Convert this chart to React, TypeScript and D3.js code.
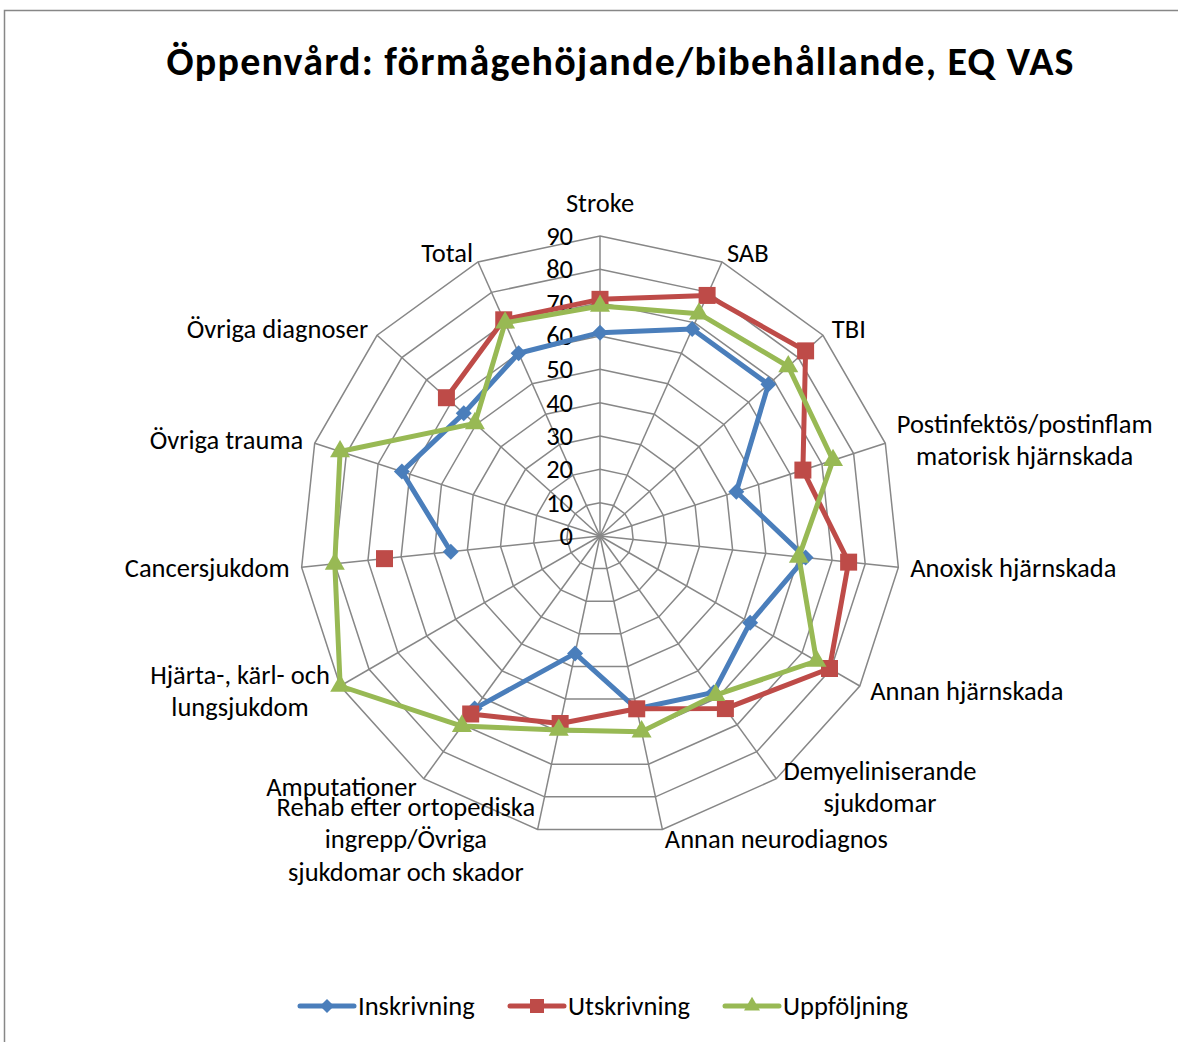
import React, { useRef, useEffect } from 'react';
import * as d3 from 'd3';

// category labels (one entry per spoke, split into lines as in the picture)
const categories: string[][] = [
  ['Stroke'],
  ['SAB'],
  ['TBI'],
  ['Postinfektös/postinflam', 'matorisk hjärnskada'],
  ['Anoxisk hjärnskada'],
  ['Annan hjärnskada'],
  ['Demyeliniserande', 'sjukdomar'],
  ['Annan neurodiagnos'],
  ['Rehab efter ortopediska', 'ingrepp/Övriga', 'sjukdomar och skador'],
  ['Amputationer'],
  ['Hjärta-, kärl- och', 'lungsjukdom'],
  ['Cancersjukdom'],
  ['Övriga trauma'],
  ['Övriga diagnoser'],
  ['Total'],
];

const inskrivning = [61, 68, 68, 43, 62, 52, 58, 53, 36, 64, null, 45, 62.5, 55, 60];
const utskrivning = [71, 79, 83, 64, 75, 79.5, 64, 53, 57.5, 66, null, 65, null, 62, 71];
const uppfoljning = [69, 73, 76, 73.5, 60, 75, 59, 60, 59.5, 70.5, 90, 80, 82, 50.5, 70];

const tickValues = [0, 10, 20, 30, 40, 50, 60, 70, 80, 90];

const seriesNames = ['Inskrivning', 'Utskrivning', 'Uppföljning'];
const seriesColors = ['#4A7EBB', '#BE4B48', '#98B954'];
const seriesMarkers = ['diamond', 'square', 'triangle'];

const FONT = 'Carlito, Lato, sans-serif';
const LABEL_SIZE = '26.5px';

export default function App() {
  const ref = useRef<SVGSVGElement>(null);

  useEffect(() => {
    const W = 1178, H = 1042;
    const cx = 600, cy = 536, R = 300;
    const svg = d3.select(ref.current);
    svg.selectAll('*').remove();

    svg.append('rect').attr('width', W).attr('height', H).attr('fill', '#fff');
    // chart border (only left and top visible)
    svg.append('path')
      .attr('d', `M4.5,${H} L4.5,10.5 L${W},10.5`)
      .attr('fill', 'none').attr('stroke', '#878787').attr('stroke-width', 1.5);

    svg.append('text')
      .attr('x', 620).attr('y', 61)
      .attr('text-anchor', 'middle').attr('dominant-baseline', 'central')
      .attr('textLength', 907).attr('lengthAdjust', 'spacing')
      .style('font-family', FONT).style('font-weight', 700).style('font-size', '40px')
      .text('Öppenvård: förmågehöjande/bibehållande, EQ VAS');

    const n = categories.length;
    const angle = d3.scaleLinear().domain([0, n]).range([0, 2 * Math.PI]);
    const r = d3.scaleLinear().domain([0, 90]).range([0, R]);

    const g = svg.append('g').attr('transform', `translate(${cx},${cy})`);
    const pt = (i: number, v: number) => [r(v) * Math.sin(angle(i)), -r(v) * Math.cos(angle(i))];

    // rings
    tickValues.filter(t => t > 0).forEach(t => {
      const pts = d3.range(n).map(i => pt(i, t));
      g.append('path')
        .attr('d', 'M' + pts.map(p => p.join(',')).join('L') + 'Z')
        .attr('fill', 'none').attr('stroke', '#878787').attr('stroke-width', 1.5);
    });
    // spokes
    d3.range(n).forEach(i => {
      const p = pt(i, 90);
      g.append('line').attr('x1', 0).attr('y1', 0).attr('x2', p[0]).attr('y2', p[1])
        .attr('stroke', '#878787').attr('stroke-width', 1.5);
    });

    // tick labels
    g.selectAll('text.tick').data(tickValues).enter().append('text')
      .attr('class', 'tick')
      .attr('x', -27).attr('y', d => -r(d))
      .attr('text-anchor', 'end').attr('dominant-baseline', 'central')
      .style('font-family', FONT).style('font-size', LABEL_SIZE).attr('fill', '#000')
      .text(d => d);

    // category labels
    const lineH = 32.5;
    categories.forEach((lines, i) => {
      const a = angle(i);
      const s = Math.sin(a), c = Math.cos(a);
      const v = pt(i, 90);
      const h = lines.length * lineH;
      const tg = g.append('g');
      const texts = lines.map(l => tg.append('text')
        .attr('text-anchor', 'middle').attr('dominant-baseline', 'central')
        .style('font-family', FONT).style('font-size', LABEL_SIZE).text(l));
      const w = d3.max(texts, t => (t.node() as SVGTextElement).getComputedTextLength()) || 0;
      let mx: number;
      let my: number;
      if (Math.abs(s) < 0.05) {
        mx = v[0];
        my = v[1] - c * (h / 2 + 17);
      } else {
        my = v[1] - c * 10;
        mx = s > 0 ? v[0] + 12 * s + w / 2 : v[0] + 12 * s - w / 2;
      }
      texts.forEach((t, k) => t.attr('x', mx).attr('y', my - h / 2 + lineH * (k + 0.5)));
    });

    const markerPath = (type: string, size: number) => {
      if (type === 'diamond') return d3.symbol(d3.symbolSquare, size * size / 2)();
      if (type === 'square') return d3.symbol(d3.symbolSquare, size * size)();
      return d3.symbol(d3.symbolTriangle, size * size * Math.sqrt(3) / 4)();
    };
    const markerRot = (type: string) => (type === 'diamond' ? ' rotate(45)' : '');

    const allSeries = [inskrivning, utskrivning, uppfoljning];
    allSeries.forEach((vals, si) => {
      const data = vals.map((v, i) => ({ i, v }));
      const closed = [...data, { i: n, v: vals[0] }];
      const line = d3.line<{ i: number; v: number | null }>()
        .defined(d => d.v != null)
        .x(d => pt(d.i, d.v as number)[0])
        .y(d => pt(d.i, d.v as number)[1]);
      g.append('path').datum(closed)
        .attr('d', line)
        .attr('fill', 'none').attr('stroke', seriesColors[si])
        .attr('stroke-width', 5).attr('stroke-linejoin', 'round').attr('stroke-linecap', 'round');
      const msize = seriesMarkers[si] === 'diamond' ? 16 : seriesMarkers[si] === 'square' ? 17 : 20;
      g.selectAll(null).data(data.filter(d => d.v != null)).enter().append('path')
        .attr('d', markerPath(seriesMarkers[si], msize))
        .attr('transform', d => {
          const p = pt(d.i, d.v as number);
          return `translate(${p[0]},${p[1]})` + markerRot(seriesMarkers[si]);
        })
        .attr('fill', seriesColors[si]);
    });

    // legend
    const legendX = [298, 508, 723];
    const ly = 1006;
    seriesNames.forEach((name, si) => {
      const lg = svg.append('g').attr('transform', `translate(${legendX[si]},${ly})`);
      lg.append('line').attr('x1', 2).attr('x2', 56).attr('y1', 0).attr('y2', 0)
        .attr('stroke', seriesColors[si]).attr('stroke-width', 5).attr('stroke-linecap', 'round');
      const msize = seriesMarkers[si] === 'diamond' ? 14 : seriesMarkers[si] === 'square' ? 14 : 16;
      lg.append('path').attr('d', markerPath(seriesMarkers[si], msize))
        .attr('transform', `translate(29,0)` + markerRot(seriesMarkers[si]))
        .attr('fill', seriesColors[si]);
      lg.append('text').attr('x', 60).attr('y', 0)
        .attr('dominant-baseline', 'central')
        .style('font-family', FONT).style('font-size', LABEL_SIZE).text(name);
    });
  }, []);

  return (
    <svg ref={ref} width={1178} height={1042}
      style={{ position: 'absolute', left: 0, top: 0, display: 'block' }} />
  );
}
